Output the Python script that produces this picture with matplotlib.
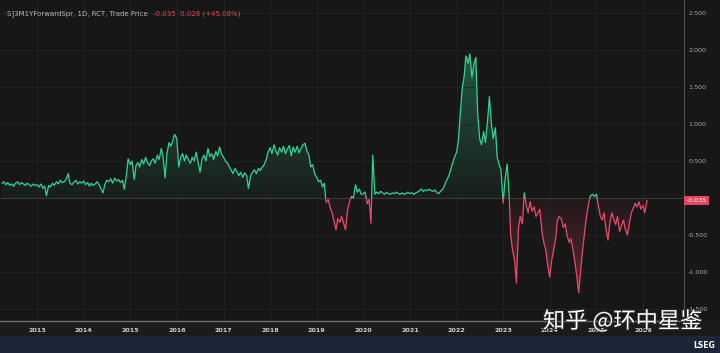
import numpy as np
import pandas as pd
import matplotlib
matplotlib.use('Agg')
import matplotlib.pyplot as plt
import matplotlib.dates as mdates
import matplotlib.transforms as mtransforms
import matplotlib.patheffects as pe
from matplotlib.path import Path
from matplotlib.patches import Rectangle

# semi-monthly readings of the spread (1st and 15th), Apr 2012 .. Feb 2026
v2012 = [0.20, 0.22, 0.18, 0.21, 0.17, 0.19, 0.16, 0.20, 0.22, 0.18, 0.21, 0.19,
         0.17, 0.20, 0.18, 0.16, 0.19, 0.17]
v2013 = [0.18, 0.15, 0.19, 0.13, 0.16, 0.03, 0.17, 0.15, 0.20, 0.17, 0.22, 0.19,
         0.24, 0.21, 0.22, 0.25, 0.33, 0.20, 0.18, 0.21, 0.24, 0.19, 0.22, 0.20]
v2014 = [0.23, 0.18, 0.21, 0.16, 0.20, 0.17, 0.19, 0.22, 0.18, 0.13, 0.07, 0.18,
         0.24, 0.22, 0.26, 0.20, 0.27, 0.23, 0.25, 0.21, 0.24, 0.12, 0.30, 0.53]
v2015 = [0.45, 0.50, 0.25, 0.44, 0.48, 0.42, 0.52, 0.46, 0.55, 0.48, 0.44, 0.50,
         0.53, 0.47, 0.58, 0.52, 0.67, 0.55, 0.27, 0.60, 0.75, 0.70, 0.78, 0.86]
v2016 = [0.80, 0.42, 0.55, 0.60, 0.50, 0.58, 0.52, 0.47, 0.55, 0.50, 0.62, 0.48,
         0.35, 0.52, 0.58, 0.50, 0.67, 0.56, 0.60, 0.52, 0.63, 0.57, 0.69, 0.60]
v2017 = [0.55, 0.50, 0.47, 0.42, 0.38, 0.33, 0.40, 0.36, 0.30, 0.35, 0.28, 0.34,
         0.30, 0.13, 0.30, 0.35, 0.38, 0.33, 0.40, 0.37, 0.42, 0.45, 0.52, 0.62]
v2018 = [0.68, 0.60, 0.72, 0.63, 0.58, 0.68, 0.62, 0.70, 0.60, 0.66, 0.71, 0.57,
         0.69, 0.62, 0.70, 0.61, 0.67, 0.72, 0.74, 0.64, 0.58, 0.42, 0.45, 0.33]
v2019 = [0.28, 0.22, 0.24, 0.15, 0.20, -0.06, -0.02, -0.12, -0.20, -0.30, -0.43, -0.28,
         -0.33, -0.25, -0.35, -0.43, -0.15, -0.05, 0.02, 0.00, 0.18, 0.08, 0.12, 0.05]
v2020 = [0.06, 0.08, -0.08, -0.02, -0.34, 0.58, 0.05, 0.08, 0.06, 0.09, 0.07, 0.05,
         0.08, 0.06, 0.05, 0.07, 0.06, 0.08, 0.06, 0.05, 0.07, 0.05, 0.06, 0.08]
v2021 = [0.06, 0.07, 0.05, 0.07, 0.08, 0.10, 0.12, 0.09, 0.11, 0.10, 0.12, 0.10,
         0.09, 0.11, 0.07, 0.06, 0.10, 0.12, 0.18, 0.24, 0.30, 0.38, 0.47, 0.55]
v2022 = [0.62, 0.78, 1.19, 1.50, 1.64, 1.92, 1.82, 1.95, 1.63, 1.80, 1.90, 1.15,
         0.80, 0.72, 0.90, 0.75, 1.05, 1.37, 1.00, 0.80, 0.95, 0.55, 0.45, 0.38]
v2023 = [-0.07, 0.24, 0.46, 0.10, -0.50, -0.70, -0.85, -1.15, -0.40, -0.25, -0.35, 0.07,
         -0.10, -0.20, -0.05, -0.18, -0.12, -0.25, -0.20, -0.15, -0.45, -0.60, -0.70, -0.90]
v2024 = [-1.07, -0.85, -0.70, -0.57, -0.30, -0.25, -0.28, -0.40, -0.35, -0.50, -0.60, -0.55,
         -0.70, -0.85, -1.07, -1.28, -0.95, -0.70, -0.45, -0.25, -0.07, 0.03, 0.05, 0.02]
v2025 = [0.05, -0.10, -0.25, -0.30, -0.20, -0.40, -0.57, -0.35, -0.20, -0.28, -0.36, -0.25,
         -0.45, -0.38, -0.30, -0.42, -0.50, -0.35, -0.20, -0.15, -0.07, -0.12, -0.05, -0.15]
v2026 = [-0.10, -0.20, -0.035]

yticks = [-1.5, -1.0, -0.5, 0.5, 1.0, 1.5, 2.0, 2.5]
ytick_labels = ['-1.500', '-1.000', '-0.500', '0.500', '1.000', '1.500', '2.000', '2.500']
years = list(range(2013, 2027))
last_label = '-0.035'
title = 'S]3M1YForwardSpr, 1D, RCT, Trade Price'
quote = '-0.035  0.028 (+45.08%)'
watermark = '知乎 @环中星鉴'

values = np.array(v2012 + v2013 + v2014 + v2015 + v2016 + v2017 + v2018 + v2019 +
                  v2020 + v2021 + v2022 + v2023 + v2024 + v2025 + v2026)
dates = pd.date_range('2012-04-01', periods=len(values), freq='SMS')

BG = '#171717'
GREEN = '#35d393'
RED = '#ea4a6a'

fig = plt.figure(figsize=(7.2, 3.53), dpi=100, facecolor=BG)
# x label band and bottom status bar
fig.patches.append(Rectangle((0, 17 / 353), 1, 15 / 353, transform=fig.transFigure,
                             color='#1b1b1b', zorder=-10))
fig.patches.append(Rectangle((0, 0), 1, 17 / 353, transform=fig.transFigure,
                             color='#1c2535', zorder=-10))

ax = fig.add_axes([0, 32 / 353, 684 / 720, 321 / 353])
ax.set_facecolor(BG)

x0 = mdates.date2num(pd.Timestamp('2012-03-16'))
x1 = mdates.date2num(pd.Timestamp('2026-11-18'))

# gradient fills between line and zero
poly = ax.fill_between(dates, values, 0, color='none', lw=0)
clip = Path.make_compound_path(*poly.get_paths())

ramp = np.linspace(0, 1, 256)
up = np.zeros((256, 1, 4))
up[:, 0, :3] = matplotlib.colors.to_rgb(GREEN)
up[:, 0, 3] = 0.04 + 0.32 * ramp
im_up = ax.imshow(up, extent=[x0, x1, 0, 2.0], origin='lower', aspect='auto', zorder=1)
im_up.set_clip_path(clip, ax.transData)

dn = np.zeros((256, 1, 4))
dn[:, 0, :3] = matplotlib.colors.to_rgb(RED)
dn[:, 0, 3] = 0.04 + 0.30 * ramp[::-1]
im_dn = ax.imshow(dn, extent=[x0, x1, -1.3, 0], origin='lower', aspect='auto', zorder=1)
im_dn.set_clip_path(clip, ax.transData)

# line coloured by sign
blend = mtransforms.blended_transform_factory(ax.transAxes, ax.transData)
above = Rectangle((0, 0), 1, 10, transform=blend)
below = Rectangle((0, -10), 1, 10, transform=blend)
g_line, = ax.plot(dates, values, color=GREEN, lw=0.9, zorder=3)
g_line.set_clip_path(above)
r_line, = ax.plot(dates, values, color=RED, lw=0.9, zorder=3)
r_line.set_clip_path(below)

ax.axhline(0, color='#3a3a3a', lw=0.8, zorder=2)

ax.set_xlim(x0, x1)
ax.set_ylim(-1.662, 2.676)

ax.set_xticks([mdates.date2num(pd.Timestamp(f'{y}-01-01')) for y in years])
ax.set_xticklabels([str(y) for y in years])
ax.set_yticks(yticks)
ax.set_yticklabels(ytick_labels)
ax.yaxis.tick_right()
ax.tick_params(axis='x', length=0, pad=5, labelsize=4.6, labelcolor='#d0d0d0')
ax.tick_params(axis='y', length=0, pad=3, labelsize=4.6, labelcolor='#a8a8a8')
for lab in ax.get_xticklabels():
    lab.set_fontweight('bold')
ax.grid(color='#242424', lw=0.6, zorder=0)

for s in ['top', 'left']:
    ax.spines[s].set_visible(False)
ax.spines['bottom'].set_color('#6e6e6e')
ax.spines['bottom'].set_linewidth(1.0)
ax.spines['right'].set_color('#505050')
ax.spines['right'].set_linewidth(0.8)

# last price tag
ax.annotate(last_label, xy=(1, values[-1]), xycoords=blend, xytext=(1.8, 0),
            textcoords='offset points', ha='left', va='center', fontsize=4.6,
            color='white', annotation_clip=False,
            bbox=dict(boxstyle='square,pad=0.35', fc='#e3465f', ec='none'))

# header: title, then the quote right after it
t1 = fig.text(7 / 720, 1 - 14 / 353, title, fontsize=5, color='#b8b8b8', va='center')
fig.canvas.draw()
bb = t1.get_window_extent()
fig.text((bb.x1 + 5) / fig.bbox.width, 1 - 14 / 353, quote, fontsize=5,
         color='#e0475f', va='center')

fig.text(543 / 720, 1 - 321 / 353, watermark, fontsize=16, color='white',
         family=['Noto Sans CJK SC', 'DejaVu Sans'], va='center', ha='left',
         path_effects=[pe.withStroke(linewidth=1.2, foreground='#2a2a2a')])
fig.text(715 / 720, 1 - 346 / 353, 'LSEG', fontsize=5.5, fontweight='bold',
         color='white', ha='right', va='center')

fig.savefig('out.png', dpi=100, facecolor=BG)
